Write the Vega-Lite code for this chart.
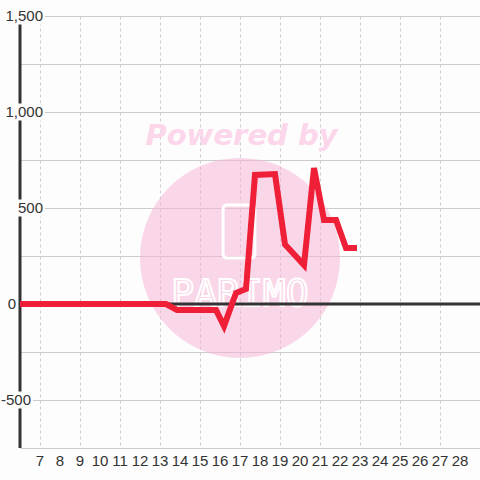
{
  "$schema": "https://vega.github.io/schema/vega-lite/v6.json",
  "width": 460,
  "height": 432,
  "autosize": {"type": "none"},
  "padding": {"left": 20, "top": 16, "right": 0, "bottom": 32},
  "background": "#fcfdfc",
  "config": {"view": {"stroke": null}},
  "datasets": {
    "series": [
      {"x": 6, "y": 0},
      {"x": 13.3, "y": 0},
      {"x": 13.85, "y": -31},
      {"x": 15.8, "y": -31},
      {"x": 16.2, "y": -115},
      {"x": 16.8, "y": 57},
      {"x": 17.3, "y": 78},
      {"x": 17.75, "y": 672},
      {"x": 18.75, "y": 677},
      {"x": 19.25, "y": 310},
      {"x": 20.2, "y": 203},
      {"x": 20.7, "y": 708},
      {"x": 21.2, "y": 437},
      {"x": 21.8, "y": 437},
      {"x": 22.3, "y": 292},
      {"x": 22.85, "y": 292}
    ],
    "ylabels": [
      {"v": 1500, "t": "1,500"},
      {"v": 1000, "t": "1,000"},
      {"v": 500, "t": "500"},
      {"v": 0, "t": "0"},
      {"v": -500, "t": "-500"}
    ],
    "xlabels": [
      {"v": 7}, {"v": 8}, {"v": 9}, {"v": 10}, {"v": 11}, {"v": 12}, {"v": 13}, {"v": 14},
      {"v": 15}, {"v": 16}, {"v": 17}, {"v": 18}, {"v": 19}, {"v": 20}, {"v": 21}, {"v": 22},
      {"v": 23}, {"v": 24}, {"v": 25}, {"v": 26}, {"v": 27}, {"v": 28}
    ]
  },
  "layer": [
    {
      "data": {"values": [{}]},
      "mark": {"type": "point", "shape": "circle", "filled": true, "size": 40000, "color": "#f8b0d6", "opacity": 0.5, "strokeWidth": 0},
      "encoding": {
        "x": {"datum": 17, "type": "quantitative", "scale": {"domain": [6, 29], "nice": false, "zero": false},
          "axis": {"values": [7,8,9,10,11,12,13,14,15,16,17,18,19,20,21,22,23,24,25,26,27,28], "grid": true, "gridDash": [3, 3], "gridColor": "#cccccc", "gridWidth": 1, "domain": false, "ticks": false, "labels": false, "title": null}},
        "y": {"datum": 240, "type": "quantitative", "scale": {"domain": [-750, 1500], "nice": false, "zero": false},
          "axis": {"values": [-750,-500,-250,0,250,500,750,1000,1250,1500], "grid": true, "gridColor": "#cccccc", "gridWidth": 1, "domain": false, "ticks": false, "labels": false, "title": null}}
      }
    },
    {
      "data": {"values": [{}]},
      "mark": {"type": "point", "filled": false, "size": 2809, "stroke": "white", "strokeWidth": 3, "opacity": 1,
        "shape": "M-0.45,-1 L0.45,-1 Q0.6,-1 0.6,-0.85 L0.6,0.85 Q0.6,1 0.45,1 L-0.45,1 Q-0.6,1 -0.6,0.85 L-0.6,-0.85 Q-0.6,-1 -0.45,-1 Z"},
      "encoding": {"x": {"datum": 16.95}, "y": {"datum": 378}}
    },
    {
      "data": {"values": [{"t": "PARIMO"}]},
      "mark": {"type": "text", "font": "DejaVu Sans Mono", "fontSize": 38, "fill": "transparent", "stroke": "white", "strokeWidth": 2, "baseline": "alphabetic", "align": "center"},
      "encoding": {"x": {"datum": 17}, "y": {"datum": -8}, "text": {"field": "t"}}
    },
    {
      "data": {"values": [{"t": "Powered by"}]},
      "mark": {"type": "text", "font": "DejaVu Sans", "fontSize": 29, "fontWeight": "bold", "fontStyle": "italic", "color": "#fcd6ea", "baseline": "alphabetic", "align": "center"},
      "encoding": {"x": {"datum": 17.075}, "y": {"datum": 828}, "text": {"field": "t"}}
    },
    {
      "data": {"values": [{}]},
      "mark": {"type": "rule", "color": "#333333", "strokeWidth": 3},
      "encoding": {"x": {"datum": 6}}
    },
    {
      "data": {"values": [{}]},
      "mark": {"type": "rule", "color": "#333333", "strokeWidth": 3},
      "encoding": {"y": {"datum": 0}}
    },
    {
      "data": {"name": "series"},
      "mark": {"type": "line", "color": "#ee1f36", "strokeWidth": 6, "strokeJoin": "miter", "strokeCap": "butt"},
      "encoding": {
        "x": {"field": "x", "type": "quantitative"},
        "y": {"field": "y", "type": "quantitative"}
      }
    },
    {
      "data": {"name": "ylabels"},
      "transform": [{"filter": "datum.v > 0"}],
      "mark": {"type": "point", "filled": true, "size": 2500, "color": "#fcfdfc", "opacity": 1, "strokeWidth": 0,
        "shape": "M-0.84,-0.34 L1,-0.34 L1,0.34 L-0.84,0.34 Z"},
      "encoding": {"x": {"datum": 6}, "y": {"field": "v", "type": "quantitative"}}
    },
    {
      "data": {"name": "ylabels"},
      "transform": [{"filter": "datum.v < 0"}],
      "mark": {"type": "point", "filled": true, "size": 2500, "color": "#fcfdfc", "opacity": 1, "strokeWidth": 0,
        "shape": "M-0.76,-0.34 L0.52,-0.34 L0.52,0.34 L-0.76,0.34 Z"},
      "encoding": {"x": {"datum": 6}, "y": {"field": "v", "type": "quantitative"}}
    },
    {
      "data": {"name": "ylabels"},
      "transform": [{"filter": "datum.v > 0"}],
      "mark": {"type": "text", "align": "right", "baseline": "middle", "dx": 23, "font": "Liberation Sans", "fontSize": 15, "color": "#333333"},
      "encoding": {"x": {"datum": 6}, "y": {"field": "v", "type": "quantitative"}, "text": {"field": "t"}}
    },
    {
      "data": {"name": "ylabels"},
      "transform": [{"filter": "datum.v == 0"}],
      "mark": {"type": "text", "align": "right", "baseline": "middle", "dx": -4, "font": "Liberation Sans", "fontSize": 15, "color": "#333333"},
      "encoding": {"x": {"datum": 6}, "y": {"field": "v", "type": "quantitative"}, "text": {"field": "t"}}
    },
    {
      "data": {"name": "ylabels"},
      "transform": [{"filter": "datum.v < 0"}],
      "mark": {"type": "text", "align": "right", "baseline": "middle", "dx": 11, "font": "Liberation Sans", "fontSize": 15, "color": "#333333"},
      "encoding": {"x": {"datum": 6}, "y": {"field": "v", "type": "quantitative"}, "text": {"field": "t"}}
    },
    {
      "data": {"name": "xlabels"},
      "mark": {"type": "text", "align": "center", "baseline": "top", "dy": 6, "font": "Liberation Sans", "fontSize": 15, "color": "#333333"},
      "encoding": {"x": {"field": "v", "type": "quantitative"}, "y": {"datum": -750}, "text": {"field": "v", "type": "nominal"}}
    }
  ]
}
